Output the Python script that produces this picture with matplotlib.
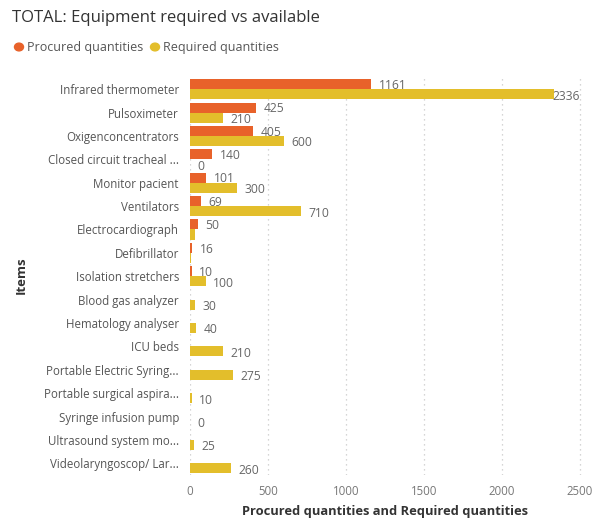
import matplotlib
matplotlib.use("Agg")
import matplotlib.pyplot as plt
import numpy as np

items = ["Infrared thermometer", "Pulsoximeter", "Oxigenconcentrators",
         "Closed circuit tracheal ...", "Monitor pacient", "Ventilators",
         "Electrocardiograph", "Defibrillator", "Isolation stretchers",
         "Blood gas analyzer", "Hematology analyser", "ICU beds",
         "Portable Electric Syring...", "Portable surgical aspira...",
         "Syringe infusion pump", "Ultrasound system mo...",
         "Videolaryngoscop/ Lar..."]
procured = [1161, 425, 405, 140, 101, 69, 50, 16, 10,
            np.nan, np.nan, np.nan, np.nan, np.nan, np.nan, np.nan, np.nan]
required = [2336, 210, 600, 0, 300, 710, 30, 5, 100,
            30, 40, 210, 275, 10, 0, 25, 260]
# which labels are shown (Power BI hides overlapping ones)
show_req_label = [True, True, True, True, True, True, False, False, True,
                  True, True, True, True, True, True, True, True]
xticks = [0, 500, 1000, 1500, 2000, 2500]

plt.rcParams['font.family'] = ['Open Sans', 'DejaVu Sans']

W, H = 606, 522
fig = plt.figure(figsize=(W / 100, H / 100), dpi=100)
ax = fig.add_axes([190 / W, 1 - 475 / H, (596 - 190) / W, (475 - 77.5) / H])

c_proc = "#E8622A"
c_req = "#E3BE2B"
n = len(items)
y = np.arange(n)
bh = 0.43
ax.barh(y - bh / 2, procured, height=bh, color=c_proc, zorder=3)
ax.barh(y + bh / 2, required, height=bh, color=c_req, zorder=3)

xmax = 2500 * (596 - 190) / (580 - 190)
lab_color = "#666666"
for i in range(n):
    if not np.isnan(procured[i]):
        ax.text(procured[i] + 50, y[i] - bh / 2 + 0.05, f"{int(procured[i])}",
                va="center", ha="left", fontsize=8.7, color=lab_color, zorder=4)
    if show_req_label[i]:
        xv = required[i] + 50
        ha = "left"
        if xv > 2300:
            xv, ha = 2500, "right"
        ax.text(xv, y[i] + bh / 2 + 0.08, f"{int(required[i])}",
                va="center", ha=ha, fontsize=8.7, color=lab_color, zorder=4)

ax.set_ylim(n - 0.5, -0.5)
ax.set_xlim(0, xmax)
ax.set_yticks(y)
ax.set_yticklabels(items, fontsize=8.3, color="#555555")
ax.set_xticks(xticks)
ax.set_xticklabels([str(t) for t in xticks], fontsize=8.3, color="#777777")
ax.tick_params(axis="both", length=0)
ax.tick_params(axis="y", pad=8)
ax.tick_params(axis="x", pad=7)
for s in ax.spines.values():
    s.set_visible(False)
ax.grid(axis="x", linestyle=(0, (1, 3)), color="#c8c8c8", linewidth=0.9, zorder=0)
ax.set_axisbelow(True)

fig.text(385 / W, 1 - 512 / H, "Procured quantities and Required quantities",
         fontsize=9.3, fontweight="bold", color="#333333", ha="center", va="center")
fig.text(21 / W, 1 - 275 / H, "Items", rotation=90, fontsize=9.5,
         fontweight="bold", color="#333333", ha="center", va="center")

fig.text(12 / W, 1 - 18 / H, "TOTAL: Equipment required vs available",
         fontsize=12, color="#333333", ha="left", va="center")

# legend
fig.patches.append(matplotlib.patches.Circle((19 / W, 1 - 47 / H), 4.5 / W,
                   transform=fig.transFigure, color=c_proc))
fig.text(27 / W, 1 - 47 / H, "Procured quantities", fontsize=9,
         color="#555555", ha="left", va="center")
fig.patches.append(matplotlib.patches.Circle((155 / W, 1 - 47 / H), 4.5 / W,
                   transform=fig.transFigure, color=c_req))
fig.text(163 / W, 1 - 47 / H, "Required quantities", fontsize=9,
         color="#555555", ha="left", va="center")

fig.savefig("out.png", dpi=100, facecolor="white")
